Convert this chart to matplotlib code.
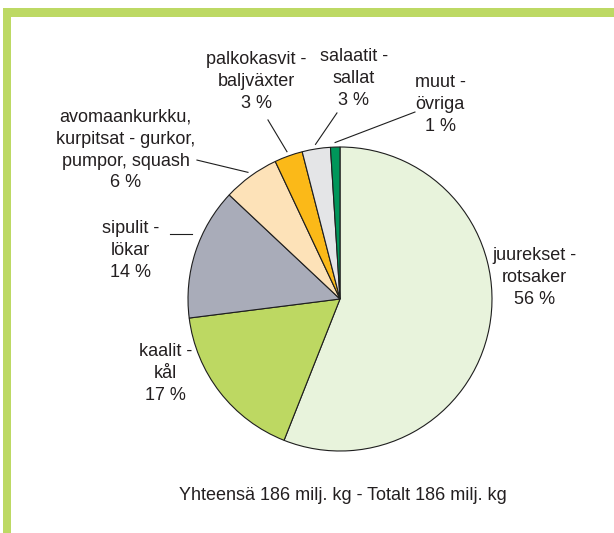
"""Vihannesten tuotanto 2000-luvulla: piirakkakaavio lajeittain."""
import matplotlib
matplotlib.use("Agg")
import matplotlib.pyplot as plt
import numpy as np
from matplotlib.patches import Rectangle

plt.rcParams["font.family"] = ["Liberation Sans", "DejaVu Sans"]

# --- data ---
labels = [
    "juurekset -\nrotsaker",
    "kaalit -\nkål",
    "sipulit -\nlökar",
    "avomaankurkku,\nkurpitsat - gurkor,\npumpor, squash",
    "palkokasvit -\nbaljväxter",
    "salaatit -\nsallat",
    "muut -\növriga",
]
shares = [56, 17, 14, 6, 3, 3, 1]
colors = ["#e8f3dc", "#bdd862", "#a9acb9", "#fde2b8", "#fbb918", "#e4e5e7", "#00965a"]
total_text = "Yhteensä 186 milj. kg - Totalt 186 milj. kg"

# label block centres in pie units (radius = 1)
label_pos = [
    (1.28, 0.14),
    (-1.15, -0.49),
    (-1.38, 0.32),
    (-1.41, 0.98),
    (-0.55, 1.43),
    (0.09, 1.45),
    (0.66, 1.28),
]
# leader start (near the text), None = no leader
leader_from = [
    None,
    None,
    (-1.118, 0.428),
    (-0.941, 0.914),
    (-0.474, 1.178),
    (-0.020, 1.224),
    (0.493, 1.230),
]

TEXT = "#231f20"
FRAME = "#bdd964"
FS = 13

W, H = 614, 533
fig = plt.figure(figsize=(W / 100, H / 100), dpi=100)

# frame (top + left bars)
bg = fig.add_axes([0, 0, 1, 1])
bg.set_xlim(0, W)
bg.set_ylim(H, 0)
bg.axis("off")
bg.add_patch(Rectangle((3, 8), W - 3, 9, color=FRAME, lw=0))
bg.add_patch(Rectangle((3, 8), 8, H - 8, color=FRAME, lw=0))
bg.text(343, 495, total_text, ha="center", va="center", fontsize=FS, color=TEXT)

# pie: centre (340, 299) px, radius 152 px
cx, cy, r = 340, 299, 152
ax = fig.add_axes([(cx - r) / W, (H - cy - r) / H, 2 * r / W, 2 * r / H])
wedges, _ = ax.pie(
    shares, colors=colors, startangle=90, counterclock=False,
    wedgeprops=dict(edgecolor="#1e1e1e", linewidth=0.8),
)
ax.set_xlim(-1, 1)
ax.set_ylim(-1, 1)
ax.set_aspect("equal")
ax.axis("off")

for i, (lab, pct) in enumerate(zip(labels, shares)):
    x, y = label_pos[i]
    ax.text(x, y, f"{lab}\n{pct} %", ha="center", va="center", fontsize=FS,
            color=TEXT, linespacing=1.38, clip_on=False)
    if leader_from[i] is None:
        continue
    sx, sy = leader_from[i]
    if i == 2:
        # sipulit: horizontal leader
        ex, ey = -0.974, sy
    else:
        w = wedges[i]
        mid = np.deg2rad((w.theta1 + w.theta2) / 2)
        ex, ey = 1.03 * np.cos(mid), 1.03 * np.sin(mid)
    ax.plot([sx, ex], [sy, ey], color="#1e1e1e", lw=0.8, clip_on=False)

fig.savefig("out.png", dpi=100)
